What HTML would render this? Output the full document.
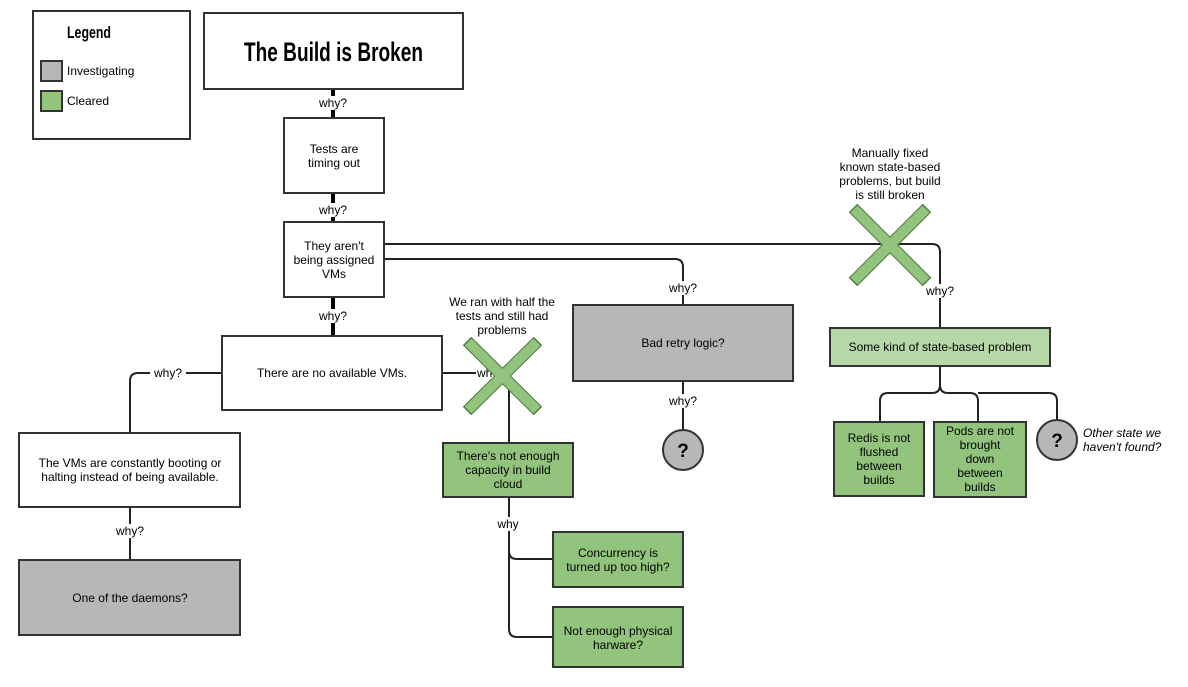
<!DOCTYPE html>
<html><head><meta charset="utf-8"><style>
html,body{margin:0;padding:0;background:#fff;}
svg{display:block;}
text{font-family:"Liberation Sans",sans-serif;font-size:12px;fill:#000;}
.c{text-anchor:middle;}
.box{stroke:#333;stroke-width:2;}
.ln{fill:none;stroke:#222;stroke-width:2;}
.thk{fill:none;stroke:#000;stroke-width:4;}
</style></head><body>
<svg width="1188" height="687" viewBox="0 0 1188 687" xmlns="http://www.w3.org/2000/svg">
<!-- connectors -->
<line class="thk" x1="333" y1="89" x2="333" y2="118"/>
<line class="thk" x1="333" y1="193" x2="333" y2="222"/>
<line class="thk" x1="333" y1="297" x2="333" y2="336"/>
<path class="ln" d="M385 244 H932 Q940 244 940 252 V328"/>
<path class="ln" d="M385 259 H675 Q683 259 683 267 V305"/>
<line class="ln" x1="683" y1="381" x2="683" y2="430"/>
<path class="ln" d="M222 373 H138 Q130 373 130 381 V433"/>
<line class="ln" x1="130" y1="507" x2="130" y2="560"/>
<path class="ln" d="M442 373 H490"/>
<line class="ln" x1="509" y1="376" x2="509" y2="443"/>
<path class="ln" d="M509 497 V551 Q509 559 517 559 H553"/>
<path class="ln" d="M509 551 V629 Q509 637 517 637 H553"/>
<path class="ln" d="M940 366 V385 Q940 393 932 393 H888 Q880 393 880 401 V422"/>
<path class="ln" d="M940 385 Q940 393 948 393 H970 Q978 393 978 401 V422"/>
<path class="ln" d="M978 393 H1049 Q1057 393 1057 401 V420"/>
<!-- labels on connectors -->
<rect x="315" y="96" width="36" height="14" fill="#fff"/><text class="c" x="333" y="107">why?</text>
<rect x="315" y="203" width="36" height="14" fill="#fff"/><text class="c" x="333" y="214">why?</text>
<rect x="315" y="309" width="36" height="14" fill="#fff"/><text class="c" x="333" y="320">why?</text>
<rect x="150" y="366" width="36" height="14" fill="#fff"/><text class="c" x="168" y="377">why?</text>
<rect x="112" y="524" width="36" height="14" fill="#fff"/><text class="c" x="130" y="535">why?</text>
<rect x="665" y="281" width="36" height="14" fill="#fff"/><text class="c" x="683" y="292">why?</text>
<rect x="665" y="394" width="36" height="14" fill="#fff"/><text class="c" x="683" y="405">why?</text>
<rect x="922" y="284" width="36" height="14" fill="#fff"/><text class="c" x="940" y="295">why?</text>
<rect x="476" y="366" width="30" height="14" fill="#fff"/><text x="477" y="377">why?</text>
<rect x="496" y="517" width="24" height="14" fill="#fff"/><text class="c" x="508" y="528">why</text>
<!-- legend -->
<rect x="33" y="11" width="157" height="128" fill="#fff" class="box"/>
<text x="67" y="38" textLength="44" lengthAdjust="spacingAndGlyphs" style="font-weight:bold;font-size:17px">Legend</text>
<rect x="41" y="61" width="21" height="20" fill="#b7b7b7" class="box"/>
<text x="67" y="75">Investigating</text>
<rect x="41" y="91" width="21" height="20" fill="#93c47d" class="box"/>
<text x="67" y="105">Cleared</text>
<!-- nodes -->
<rect x="204" y="13" width="259" height="76" fill="#fff" class="box"/>
<text x="244" y="61" textLength="179" lengthAdjust="spacingAndGlyphs" style="font-weight:bold;font-size:27px">The Build is Broken</text>
<rect x="284" y="118" width="100" height="75" fill="#fff" class="box"/>
<text class="c" x="334" y="153">Tests are</text><text class="c" x="334" y="167">timing out</text>
<rect x="284" y="222" width="100" height="75" fill="#fff" class="box"/>
<text class="c" x="334" y="250">They aren't</text><text class="c" x="334" y="264">being assigned</text><text class="c" x="334" y="278">VMs</text>
<rect x="222" y="336" width="220" height="74" fill="#fff" class="box"/>
<text class="c" x="332" y="377">There are no available VMs.</text>
<rect x="19" y="433" width="221" height="74" fill="#fff" class="box"/>
<text class="c" x="130" y="467">The VMs are constantly booting or</text><text class="c" x="130" y="481">halting instead of being available.</text>
<rect x="19" y="560" width="221" height="75" fill="#b7b7b7" class="box"/>
<text class="c" x="130" y="602">One of the daemons?</text>
<rect x="443" y="443" width="130" height="54" fill="#93c47d" class="box"/>
<text class="c" x="508" y="460">There's not enough</text><text class="c" x="508" y="474">capacity in build</text><text class="c" x="508" y="488">cloud</text>
<rect x="553" y="532" width="130" height="55" fill="#93c47d" class="box"/>
<text class="c" x="618" y="557">Concurrency is</text><text class="c" x="618" y="571">turned up too high?</text>
<rect x="553" y="607" width="130" height="60" fill="#93c47d" class="box"/>
<text class="c" x="618" y="635">Not enough physical</text><text class="c" x="618" y="649">harware?</text>
<rect x="573" y="305" width="220" height="76" fill="#b7b7b7" class="box"/>
<text class="c" x="683" y="347">Bad retry logic?</text>
<circle cx="683" cy="450" r="20" fill="#b7b7b7" class="box"/>
<text class="c" x="683" y="457" style="font-weight:bold;font-size:19px">?</text>
<rect x="830" y="328" width="220" height="38" fill="#b6d7a8" class="box"/>
<text class="c" x="940" y="351">Some kind of state-based problem</text>
<rect x="834" y="422" width="90" height="74" fill="#93c47d" class="box"/>
<text class="c" x="879" y="442">Redis is not</text><text class="c" x="879" y="456">flushed</text><text class="c" x="879" y="470">between</text><text class="c" x="879" y="484">builds</text>
<rect x="934" y="422" width="92" height="75" fill="#93c47d" class="box"/>
<text class="c" x="980" y="435">Pods are not</text><text class="c" x="980" y="449">brought</text><text class="c" x="980" y="463">down</text><text class="c" x="980" y="477">between</text><text class="c" x="980" y="491">builds</text>
<circle cx="1057" cy="440" r="20" fill="#b7b7b7" class="box"/>
<text class="c" x="1057" y="447" style="font-weight:bold;font-size:19px">?</text>
<text x="1083" y="437" style="font-style:italic">Other state we</text>
<text x="1083" y="451" style="font-style:italic">haven't found?</text>
<!-- X marks -->
<g stroke-linecap="butt">
<line x1="467" y1="341" x2="538" y2="411" stroke="#4a7a38" stroke-width="12"/>
<line x1="538" y1="341" x2="467" y2="411" stroke="#4a7a38" stroke-width="12"/>
<line x1="468" y1="342" x2="537" y2="410" stroke="#93c47d" stroke-width="10"/>
<line x1="537" y1="342" x2="468" y2="410" stroke="#93c47d" stroke-width="10"/>
<line x1="853" y1="208" x2="927" y2="282" stroke="#4a7a38" stroke-width="12"/>
<line x1="927" y1="208" x2="853" y2="282" stroke="#4a7a38" stroke-width="12"/>
<line x1="854" y1="209" x2="926" y2="281" stroke="#93c47d" stroke-width="10"/>
<line x1="926" y1="209" x2="854" y2="281" stroke="#93c47d" stroke-width="10"/>
</g>
<text class="c" x="502" y="306">We ran with half the</text>
<text class="c" x="502" y="320">tests and still had</text>
<text class="c" x="502" y="334">problems</text>
<text class="c" x="890" y="157">Manually fixed</text>
<text class="c" x="890" y="171">known state-based</text>
<text class="c" x="890" y="185">problems, but build</text>
<text class="c" x="890" y="199">is still broken</text>
</svg>
</body></html>
